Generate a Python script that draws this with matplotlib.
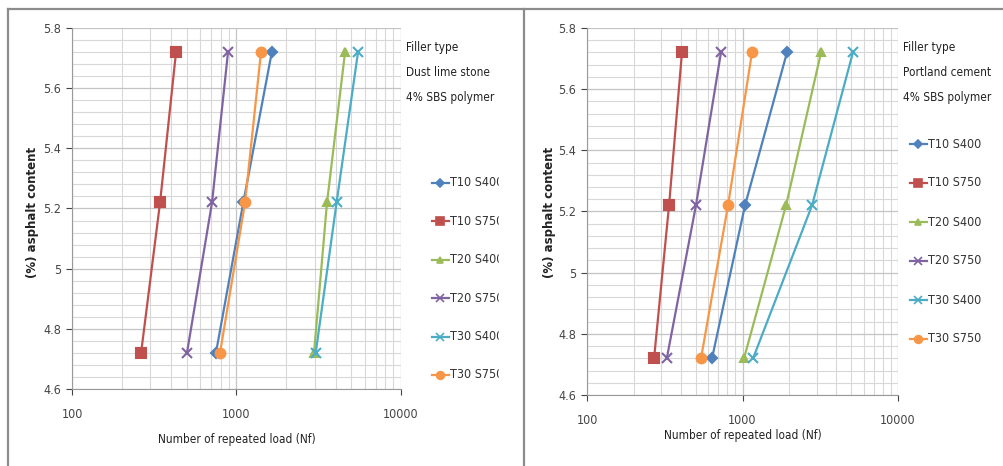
import numpy as np
import matplotlib.pyplot as plt
from matplotlib.lines import Line2D
from matplotlib.patches import Rectangle
from matplotlib.ticker import FixedLocator, MultipleLocator, NullFormatter

plt.rcParams['font.family'] = ['DejaVu Sans']
plt.rcParams['font.stretch'] = 'condensed'

# asphalt content (%) for every series
asphalt = [4.72, 5.22, 5.72]

labels = ["T10 S400", "T10 S750", "T20 S400", "T20 S750", "T30 S400", "T30 S750"]

# repeated load (Nf), dust lime stone filler
dust_t10_s400 = [750, 1100, 1640]
dust_t10_s750 = [263, 343, 429]
dust_t20_s400 = [2960, 3550, 4570]
dust_t20_s750 = [500, 710, 888]
dust_t30_s400 = [3030, 4060, 5480]
dust_t30_s750 = [794, 1127, 1409]

# repeated load (Nf), portland cement filler
cem_t10_s400 = [637, 1038, 1932]
cem_t10_s750 = [270, 337, 408]
cem_t20_s400 = [1023, 1905, 3200]
cem_t20_s750 = [326, 502, 727]
cem_t30_s400 = [1170, 2800, 5130]
cem_t30_s750 = [541, 807, 1151]

colors = ["#4F81BD", "#C0504D", "#9BBB59", "#8064A2", "#4BACC6", "#F79646"]
markers = ["D", "s", "^", "x", "x", "o"]
msizes = [5, 7, 6, 7, 7, 7]

W, H = 1004, 466
fig = plt.figure(figsize=(W / 100, H / 100), dpi=100)


def draw_panel(rect, series, notes, ylab_x, xlab_y, leg_x, leg_y0, leg_dy):
    ax = fig.add_axes(rect)
    for i, xs in enumerate(series):
        ax.plot(xs, asphalt, color=colors[i], marker=markers[i], ms=msizes[i],
                mew=1.5, lw=1.6, label=labels[i], zorder=3)
    ax.set_xscale('log')
    ax.set_xlim(100, 10000)
    ax.set_ylim(4.6, 5.8)
    ax.xaxis.set_major_locator(FixedLocator([100, 1000, 10000]))
    ax.xaxis.set_minor_locator(FixedLocator([m * d for d in (100, 1000) for m in range(2, 10)]))
    ax.xaxis.set_minor_formatter(NullFormatter())
    ax.set_xticklabels(["100", "1000", "10000"])
    ax.yaxis.set_minor_locator(MultipleLocator(0.04))
    ax.set_yticks([4.6, 4.8, 5.0, 5.2, 5.4, 5.6, 5.8])
    ax.set_yticklabels(["4.6", "4.8", "5", "5.2", "5.4", "5.6", "5.8"])
    ax.grid(which='major', color='#c4c4c4', lw=0.9)
    ax.grid(which='minor', color='#d8d8d8', lw=0.8)
    for s in ['top', 'right']:
        ax.spines[s].set_visible(False)
    ax.spines['left'].set_color('#999999')
    ax.spines['bottom'].set_color('#999999')
    ax.tick_params(axis='x', which='major', length=4, pad=10, labelsize=9, colors='#444444')
    ax.tick_params(axis='y', which='major', length=4, pad=4, labelsize=9, colors='#444444')
    ax.tick_params(which='minor', length=0)
    ax.set_axisbelow(True)

    x0 = rect[0] + rect[2] + 5 / W
    for k, t in enumerate(notes):
        fig.text(x0, 1 - (48 + 25 * k) / H, t, fontsize=8.5, va='center', color='#222222')
    fig.text(ylab_x / W, 1 - 212 / H, "(%) asphalt content", rotation=90, fontsize=8.5,
             fontweight='bold', fontstretch='normal', ha='center', va='center', color='#222222')
    fig.text((rect[0] + rect[2] / 2), 1 - xlab_y / H, "Number of repeated load (Nf)",
             fontsize=8.5, ha='center', va='center', color='#222222')
    for k, l in enumerate(labels):
        y = 1 - (leg_y0 + leg_dy * k) / H
        fig.add_artist(Line2D([leg_x / W, (leg_x + 8.5) / W, (leg_x + 17) / W], [y, y, y],
                              color=colors[k], lw=1.6, marker=markers[k],
                              ms=msizes[k] * 0.8, mew=1.2, markevery=[1],
                              transform=fig.transFigure))
        fig.text((leg_x + 18) / W, y, l, fontsize=9, va='center', color='#333333')
    return ax


draw_panel([72 / W, 1 - 389 / H, 329 / W, 361 / H],
           [dust_t10_s400, dust_t10_s750, dust_t20_s400, dust_t20_s750, dust_t30_s400, dust_t30_s750],
           ["Filler type", "Dust lime stone", "4% SBS polymer"], 33, 440, 432, 183, 38.4)
draw_panel([587 / W, 1 - 395 / H, 311 / W, 367 / H],
           [cem_t10_s400, cem_t10_s750, cem_t20_s400, cem_t20_s750, cem_t30_s400, cem_t30_s750],
           ["Filler type", "Portland cement", "4% SBS polymer"], 550, 436, 910, 144, 39)

# white strip hiding the clipped left legend, then the frame lines
fig.add_artist(Rectangle((499 / W, 0), 24 / W, 1 - 11 / H, transform=fig.transFigure,
                         color='white', zorder=10))
frame = dict(color='#8c8c8c', lw=1.6, transform=fig.transFigure, zorder=11)
fig.add_artist(Line2D([8 / W, 1], [1 - 9 / H, 1 - 9 / H], **frame))
fig.add_artist(Line2D([8 / W, 8 / W], [0, 1 - 9 / H], **frame))
fig.add_artist(Line2D([524 / W, 524 / W], [0, 1 - 9 / H], **frame))

fig.savefig("out.png", dpi=100)
